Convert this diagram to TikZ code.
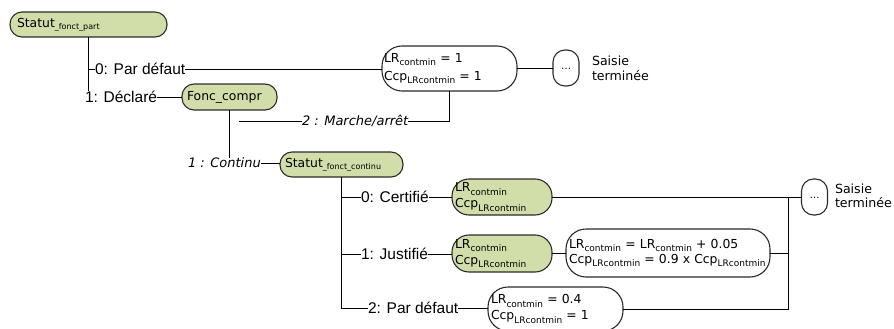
\documentclass[tikz,border=0pt]{standalone}
\usepackage{fontspec}
\setmainfont{DejaVu Sans}
\newfontfamily\labfont{Liberation Sans}
\definecolor{boxgreen}{HTML}{D2DEA9}
\definecolor{edgecol}{HTML}{2B2B2B}
\newcommand{\sbs}[1]{\raisebox{-0.25em}{\fontsize{9}{9}\selectfont #1}}
\newcommand{\sbf}[1]{\raisebox{-0.18em}{\fontsize{8}{8}\selectfont #1}}
\begin{document}
\begin{tikzpicture}[x=1pt,y=-1pt,
  every node/.style={inner sep=0pt, outer sep=0pt},
  conn/.style={draw=black, line width=0.9pt},
  boxfont/.style={font=\fontsize{12.4}{#1}\selectfont},
  pill/.style={draw=edgecol, line width=1.1pt, rounded corners=#1, align=left, inner ysep=0pt},
  gpill/.style={pill=#1, fill=boxgreen},
  wpill/.style={pill=#1, fill=white},
  lab/.style={font=\labfont\fontsize{15.5}{18}\selectfont, anchor=west},
  ilab/.style={font=\fontsize{13}{16}\selectfont\itshape, anchor=west},
  endtxt/.style={font=\fontsize{12.6}{14.5}\selectfont, align=left, anchor=west},
]
\useasboundingbox (0,0) rectangle (894,329);

% boxes
\node[gpill=12pt, boxfont=15, text width=143pt, inner xsep=7pt, minimum height=25pt] (sfp) at (88.5,24.5) {Statut\sbf{\_fonct\_part}};
\node[gpill=12pt, boxfont=15, text width=85pt, inner xsep=5pt, minimum height=26pt] (fc) at (229.5,97) {Fonc\_compr};
\node[gpill=12pt, boxfont=15, text width=113pt, inner xsep=5pt, minimum height=25pt] (sfc) at (341.5,164.5) {Statut\sbf{\_fonct\_continu}};
\node[wpill=20pt, boxfont=18, text width=131pt, inner xsep=2pt, minimum height=45pt] (lr1) at (449.5,68.5) {LR\sbs{contmin} = 1\\Ccp\sbs{LRcontmin} = 1};
\node[wpill=12pt, boxfont=15, minimum width=26pt, minimum height=36pt, align=center] (d1) at (566,68) {\raisebox{-2pt}{\fontsize{10}{10}\selectfont …}};
\node[endtxt] (st1) at (592,68.5) {Saisie\\terminée};

\node[gpill=17pt, boxfont=16, text width=94pt, inner xsep=3pt, minimum height=36pt] (g1) at (502,197) {LR\sbs{contmin}\\Ccp\sbs{LRcontmin}};
\node[gpill=17pt, boxfont=16, text width=94pt, inner xsep=3pt, minimum height=37pt] (g2) at (502,253.5) {LR\sbs{contmin}\\Ccp\sbs{LRcontmin}};
\node[wpill=20pt, boxfont=15, text width=198pt, inner xsep=3pt, minimum height=48pt] (w2) at (668,253) {LR\sbs{contmin} = LR\sbs{contmin} + 0.05\\Ccp\sbs{LRcontmin} = 0.9 x Ccp\sbs{LRcontmin}};
\node[wpill=20pt, boxfont=16, text width=129pt, inner xsep=3pt, minimum height=44pt] (w3) at (555.5,309) {LR\sbs{contmin} = 0.4\\Ccp\sbs{LRcontmin} = 1};
\node[wpill=12pt, boxfont=15, minimum width=26pt, minimum height=36pt, align=center] (d2) at (814.5,197) {\raisebox{-2pt}{\fontsize{10}{10}\selectfont …}};
\node[endtxt] (st2) at (835,196) {Saisie\\terminée};

% labels
\node[lab] (l0) at (95,69) {0: Par défaut};
\node[lab] (l1) at (85,97) {1: Déclaré};
\node[ilab] (l2) at (302,121) {2 : Marche/arrêt};
\node[ilab] (lc) at (188,163) {1 : Continu};
\node[lab] (c0) at (361,197) {0: Certifié};
\node[lab] (c1) at (361,254) {1: Justifié};
\node[lab] (c2) at (368,308) {2: Par défaut};

\coordinate (m0) at (239,121);
\coordinate (jn) at (788,197);

% connectors
\draw[conn] (sfp.south) -- (sfp.south |- l1.north);
\draw[conn] (sfp.south |- l0.west) -- (l0.west);
\draw[conn] (l0.east) -- (l0.east -| lr1.west);
\draw[conn] (l1.east) -- (l1.east -| fc.west);
\draw[conn] (lr1.east) -- (lr1.east -| d1.west);
\draw[conn] (fc.south) -- (fc.south |- lc.north);
\draw[conn] (m0) -- (l2.west);
\draw[conn] (l2.east) -| (lr1.south);
\draw[conn] (lc.east) -- (lc.east -| sfc.west);
\draw[conn] (sfc.south) |- (c2.west);
\draw[conn] (sfc.south |- c0.west) -- (c0.west);
\draw[conn] (sfc.south |- c1.west) -- (c1.west);
\draw[conn] (c0.east) -- (c0.east -| g1.west);
\draw[conn] (c1.east) -- (c1.east -| g2.west);
\draw[conn] (c2.east) -- (c2.east -| w3.west);
\draw[conn] (g1.east) -- (g1.east -| d2.west);
\draw[conn] (g2.east) -- (g2.east -| w2.west);
\draw[conn] (w2.east) -- (w2.east -| jn);
\draw[conn] (w3.east) -| (jn);
\end{tikzpicture}
\end{document}
